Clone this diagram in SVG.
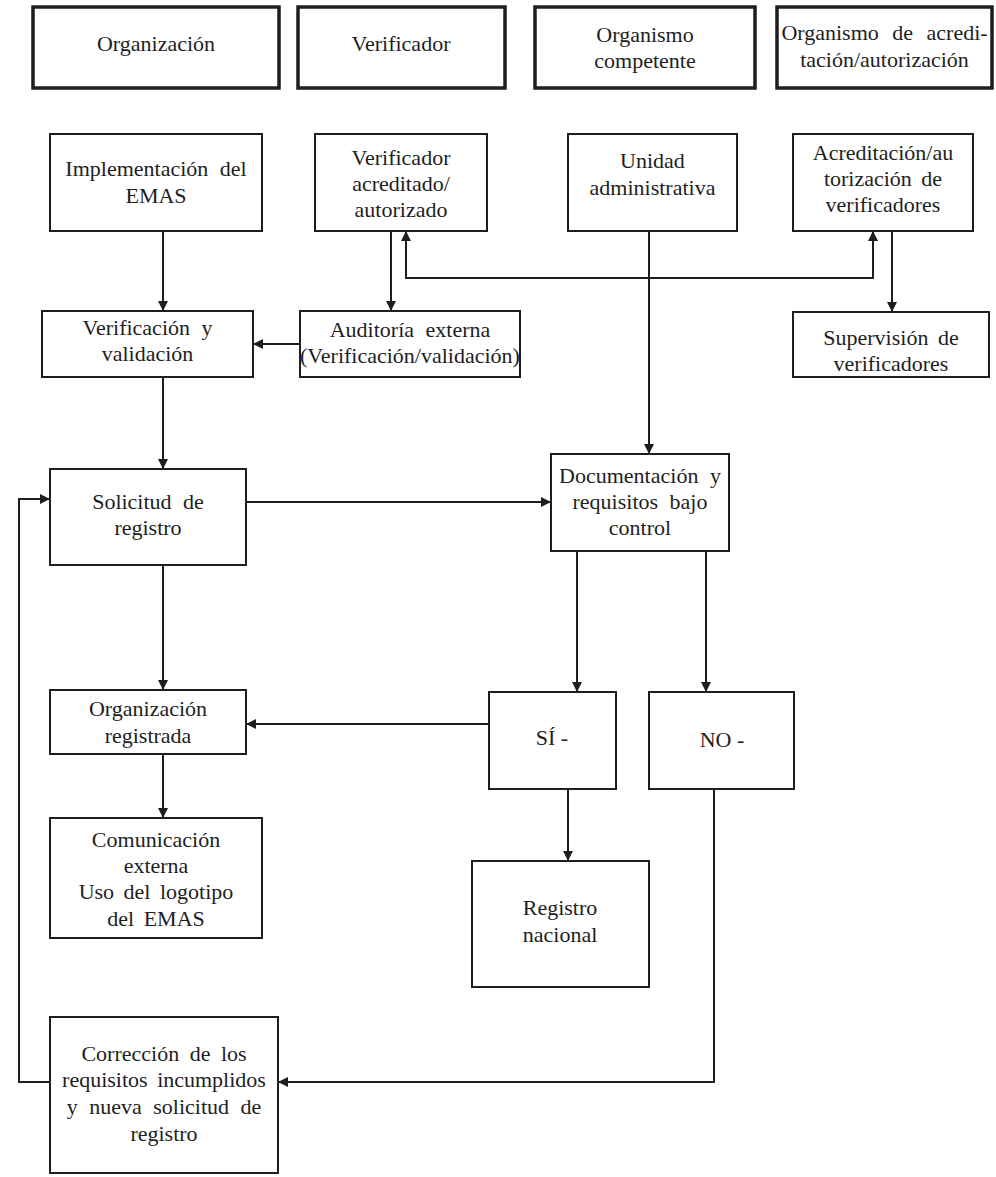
<svg xmlns="http://www.w3.org/2000/svg" width="996" height="1177" viewBox="0 0 996 1177">
<style>
  .hdr { fill: #fff; stroke: #1e1e1e; stroke-width: 3.5; }
  .box { fill: #fff; stroke: #1e1e1e; stroke-width: 2; }
  .t { font-family: 'Liberation Serif', 'DejaVu Serif', serif; font-size: 22px; fill: #1e1e1e; text-anchor: middle; }
  .c { fill: none; stroke: #1e1e1e; stroke-width: 2; }
</style>
<defs>
  <marker id="ah" viewBox="0 0 10 10" refX="10" refY="5" markerWidth="10" markerHeight="10" markerUnits="userSpaceOnUse" orient="auto-start-reverse">
    <path d="M0,0 L10,5 L0,10 z" fill="#1e1e1e"/>
  </marker>
</defs>
<rect width="996" height="1177" fill="#fff"/>

<g id="h-organizacion"><rect class="hdr" x="33" y="7" width="246" height="81"/><text class="t" x="156" y="51">Organización</text></g>
<g id="h-verificador"><rect class="hdr" x="298" y="7" width="207" height="81"/><text class="t" x="401" y="51">Verificador</text></g>
<g id="h-organismo-competente"><rect class="hdr" x="535" y="7" width="220" height="81"/><text class="t" x="645" y="42">Organismo</text><text class="t" x="645" y="68">competente</text></g>
<g id="h-organismo-acreditacion"><rect class="hdr" x="777" y="7" width="215" height="81"/><text class="t" x="884.5" y="40" word-spacing="8">Organismo de acredi-</text><text class="t" x="884.5" y="67">tación/autorización</text></g>

<g id="connectors">
  <path class="c" d="M163,231 V311" marker-end="url(#ah)"/>
  <path class="c" d="M391,231 V311" marker-end="url(#ah)"/>
  <path class="c" d="M406,231 V278 H873 V231" marker-start="url(#ah)" marker-end="url(#ah)"/>
  <path class="c" d="M300,344 H253" marker-end="url(#ah)"/>
  <path class="c" d="M892,231 V312" marker-end="url(#ah)"/>
  <path class="c" d="M163,377 V469" marker-end="url(#ah)"/>
  <path class="c" d="M649,231 V454" marker-end="url(#ah)"/>
  <path class="c" d="M246,502 H551" marker-end="url(#ah)"/>
  <path class="c" d="M163,565 V690" marker-end="url(#ah)"/>
  <path class="c" d="M577,551 V692" marker-end="url(#ah)"/>
  <path class="c" d="M706,551 V692" marker-end="url(#ah)"/>
  <path class="c" d="M489,724 H246" marker-end="url(#ah)"/>
  <path class="c" d="M163,754 V818" marker-end="url(#ah)"/>
  <path class="c" d="M568,789 V861" marker-end="url(#ah)"/>
  <path class="c" d="M714,789 V1082 H278" marker-end="url(#ah)"/>
  <path class="c" d="M50,1082 H19 V499 H50" marker-end="url(#ah)"/>
</g>

<g id="n-implementacion"><rect class="box" x="50" y="134" width="212" height="97"/><text class="t" x="156" y="176" word-spacing="6">Implementación del</text><text class="t" x="156" y="203">EMAS</text></g>
<g id="n-verificador-acreditado"><rect class="box" x="315" y="134" width="172" height="97"/><text class="t" x="401" y="165">Verificador</text><text class="t" x="401" y="191">acreditado/</text><text class="t" x="401" y="217">autorizado</text></g>
<g id="n-unidad"><rect class="box" x="568" y="134" width="169" height="97"/><text class="t" x="652.5" y="168">Unidad</text><text class="t" x="652.5" y="195">administrativa</text></g>
<g id="n-acreditacion"><rect class="box" x="793" y="134" width="180" height="97"/><text class="t" x="883" y="160">Acreditación/au</text><text class="t" x="883" y="186" word-spacing="4">torización de</text><text class="t" x="883" y="212">verificadores</text></g>
<g id="n-verificacion-validacion"><rect class="box" x="42" y="311" width="211" height="66"/><text class="t" x="147.5" y="335" word-spacing="6">Verificación y</text><text class="t" x="147.5" y="361">validación</text></g>
<g id="n-auditoria"><rect class="box" x="300" y="311" width="220" height="66"/><text class="t" x="410" y="337" word-spacing="6">Auditoría externa</text><text class="t" x="410" y="363">(Verificación/validación)</text></g>
<g id="n-supervision"><rect class="box" x="793" y="312" width="196" height="65"/><text class="t" x="891" y="345" word-spacing="4">Supervisión de</text><text class="t" x="891" y="371">verificadores</text></g>
<g id="n-solicitud"><rect class="box" x="50" y="469" width="196" height="96"/><text class="t" x="148" y="509" word-spacing="6">Solicitud de</text><text class="t" x="148" y="535">registro</text></g>
<g id="n-documentacion"><rect class="box" x="551" y="454" width="178" height="97"/><text class="t" x="640" y="483" word-spacing="6">Documentación y</text><text class="t" x="640" y="509" word-spacing="6">requisitos bajo</text><text class="t" x="640" y="535">control</text></g>
<g id="n-organizacion-registrada"><rect class="box" x="50" y="690" width="196" height="64"/><text class="t" x="148" y="716">Organización</text><text class="t" x="148" y="743">registrada</text></g>
<g id="n-si"><rect class="box" x="489" y="692" width="127" height="97"/><text class="t" x="552" y="745">SÍ -</text></g>
<g id="n-no"><rect class="box" x="649" y="692" width="145" height="97"/><text class="t" x="722" y="747">NO -</text></g>
<g id="n-comunicacion"><rect class="box" x="50" y="818" width="212" height="120"/><text class="t" x="156" y="847">Comunicación</text><text class="t" x="156" y="873">externa</text><text class="t" x="156" y="899" word-spacing="4">Uso del logotipo</text><text class="t" x="156" y="926" word-spacing="4">del EMAS</text></g>
<g id="n-registro-nacional"><rect class="box" x="472" y="861" width="177" height="126"/><text class="t" x="560" y="915">Registro</text><text class="t" x="560" y="942">nacional</text></g>
<g id="n-correccion"><rect class="box" x="50" y="1017" width="228" height="156"/><text class="t" x="164" y="1061" word-spacing="5">Corrección de los</text><text class="t" x="164" y="1087" word-spacing="4">requisitos incumplidos</text><text class="t" x="164" y="1114" word-spacing="6">y nueva solicitud de</text><text class="t" x="164" y="1141">registro</text></g>
</svg>
